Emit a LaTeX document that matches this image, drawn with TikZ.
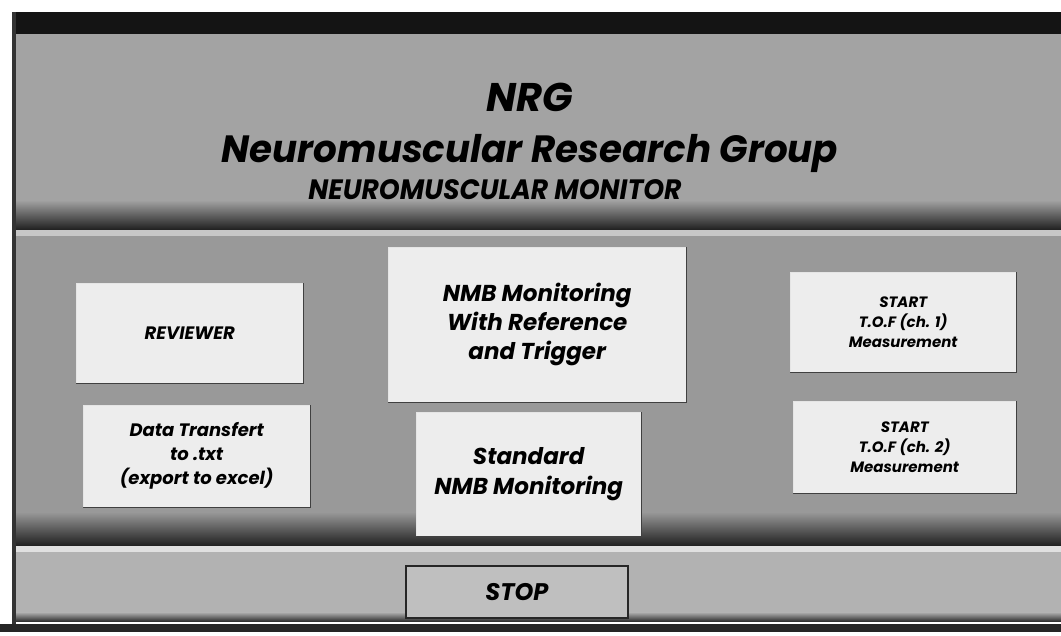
\documentclass[tikz,border=0pt]{standalone}
\usepackage{fontspec}
\setmainfont{Poppins}
\begin{document}
\begin{tikzpicture}[x=1pt,y=-1pt,
  btn/.style={fill=gray!14, align=center, inner sep=0pt, anchor=north west, text=black},
  shadowedge/.style={draw=black!75, line width=1.2pt}
]
\useasboundingbox (0,0) rectangle (1061,635);
\fill[white] (0,0) rectangle (1061,635);
% window frame
\fill[black!92] (14,12) rectangle (1061,34);
\fill[black!80] (12,12) rectangle (16,625);
% header panel
\fill[black!36] (16,34) rectangle (1061,200);
\shade[top color=black!36, bottom color=black!88] (16,200) rectangle (1061,230);
\fill[black!22] (16,230) rectangle (1061,236);
% middle panel
\fill[black!40] (16,236) rectangle (1061,512);
\shade[top color=black!40, bottom color=black!88] (16,512) rectangle (1061,546);
\fill[black!12] (16,546) rectangle (1061,552);
% bottom panel
\fill[black!30] (16,552) rectangle (1061,612);
\shade[top color=black!30, bottom color=black!80] (16,612) rectangle (1061,621);
\fill[black!85] (0,624) rectangle (1061,632);
% titles
\node[font=\bfseries\itshape\fontsize{40}{44}\selectfont] (nrg) at (530,97) {NRG};
\node[font=\bfseries\itshape\fontsize{38}{42}\selectfont, xscale=0.98] (nrgfull) at (530,153) {Neuromuscular Research Group};
\node[font=\bfseries\itshape\fontsize{28}{32}\selectfont, xscale=0.95] (mon) at (495,190) {NEUROMUSCULAR MONITOR};
% buttons
\node[btn, minimum width=227, minimum height=100, font=\bfseries\itshape\fontsize{18}{22}\selectfont] (rev) at (76,283) {REVIEWER};
\node[btn, minimum width=227, minimum height=102, font=\bfseries\itshape\fontsize{18}{24}\selectfont] (dt) at (83,405) {Data Transfert\\to .txt\\(export to excel)};
\node[btn, minimum width=298, minimum height=155, font=\bfseries\itshape\fontsize{23}{29}\selectfont] (nmbref) at (388,247) {NMB Monitoring\\With Reference\\and Trigger};
\node[btn, minimum width=225, minimum height=124, font=\bfseries\itshape\fontsize{23}{30}\selectfont] (std) at (416,412) {Standard\\NMB Monitoring};
\node[btn, minimum width=226, minimum height=100, font=\bfseries\itshape\fontsize{15}{20}\selectfont] (tof1) at (790,272) {START\\T.O.F (ch. 1)\\Measurement};
\node[btn, minimum width=223, minimum height=92, font=\bfseries\itshape\fontsize{15}{20}\selectfont] (tof2) at (793,401) {START\\T.O.F (ch. 2)\\Measurement};
\node[btn, draw=black!85, line width=1.8pt, fill=black!25, minimum width=222, minimum height=52, font=\bfseries\itshape\fontsize{24}{28}\selectfont] (stop) at (405,565) {STOP};
% 3D shadow edges (bottom and right)
\foreach \b in {rev,dt,nmbref,std,tof1,tof2}{
  \draw[shadowedge] (\b.north east) -- (\b.south east) -- (\b.south west);
  \draw[white!90!black, line width=0.8pt] (\b.south west) -- (\b.north west) -- (\b.north east);
}
\end{tikzpicture}
\end{document}
